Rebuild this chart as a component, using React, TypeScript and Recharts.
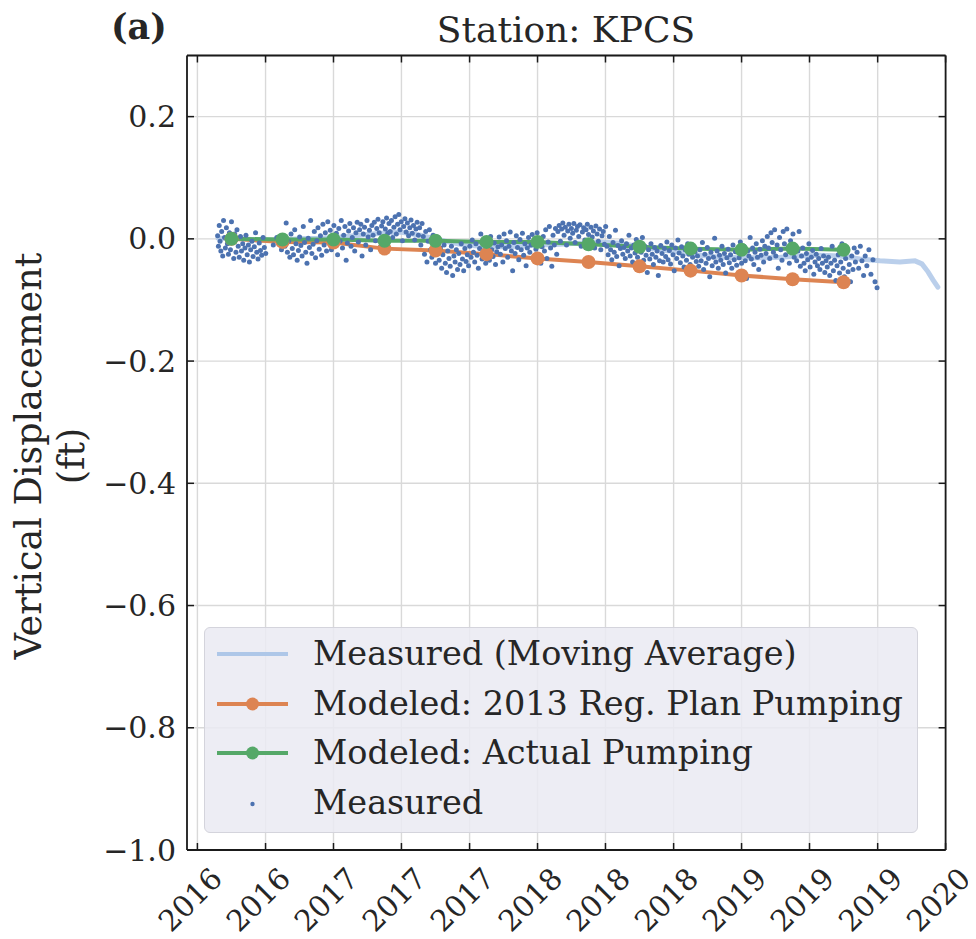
import React from "react";
import { CartesianGrid, ComposedChart, Line, Scatter, XAxis, YAxis } from "recharts";

// decimal year, vertical displacement (ft)
const movingAverage: [number, number][] = [
  [2016.434, 0.001], [2016.542, 0.0], [2016.64, -0.002], [2016.738, -0.002], [2016.836, 0.0],
  [2016.934, 0.001], [2017.032, 0.003], [2017.13, 0.006], [2017.228, 0.009], [2017.326, 0.011],
  [2017.426, 0.006], [2017.522, -0.002], [2017.62, -0.009], [2017.718, -0.012], [2017.816, -0.013],
  [2017.916, -0.012], [2018.012, -0.01], [2018.11, -0.009], [2018.208, -0.007], [2018.306, -0.005],
  [2018.404, -0.007], [2018.502, -0.013], [2018.6, -0.018], [2018.7, -0.022], [2018.796, -0.027],
  [2018.894, -0.03], [2018.992, -0.031], [2019.09, -0.031], [2019.19, -0.03], [2019.286, -0.028],
  [2019.384, -0.027], [2019.482, -0.028], [2019.58, -0.033], [2019.678, -0.036], [2019.776, -0.038],
  [2019.85, -0.036], [2019.884, -0.041], [2019.914, -0.054], [2019.938, -0.067], [2019.962, -0.079],
];

const modelYears = [
  2016.5, 2016.75, 2017.0, 2017.25, 2017.5, 2017.75, 2018.0, 2018.25, 2018.5, 2018.75, 2019.0, 2019.25, 2019.5,
];
const regPlan = [0.0, -0.005, -0.006, -0.016, -0.019, -0.025, -0.032, -0.038, -0.045, -0.052, -0.06, -0.066, -0.071];
const actualPumping = [0.0, -0.001, -0.001, -0.003, -0.003, -0.005, -0.005, -0.009, -0.013, -0.016, -0.018, -0.016, -0.018];

const measured: [number, number][] = [
  [2016.432, 0.005], [2016.436, -0.012], [2016.44, 0.022], [2016.444, -0.004], [2016.448, -0.02], [2016.452, 0.012],
  [2016.457, -0.028], [2016.461, 0.03], [2016.466, 0.002], [2016.47, -0.015], [2016.475, 0.018], [2016.48, -0.008],
  [2016.485, -0.025], [2016.49, 0.01], [2016.495, -0.018], [2016.5, 0.028], [2016.506, -0.005], [2016.511, -0.032],
  [2016.516, 0.008], [2016.522, -0.022], [2016.527, 0.015], [2016.533, -0.012], [2016.538, -0.03], [2016.544, 0.004],
  [2016.549, -0.02], [2016.555, -0.008], [2016.56, -0.035], [2016.566, -0.015], [2016.571, 0.006], [2016.577, -0.026],
  [2016.583, -0.01], [2016.588, -0.038], [2016.594, -0.018], [2016.6, -0.004], [2016.606, -0.029], [2016.612, -0.013],
  [2016.618, 0.01], [2016.624, -0.022], [2016.63, -0.033], [2016.636, -0.007], [2016.642, -0.019], [2016.648, -0.027],
  [2016.655, 0.002], [2016.661, -0.014], [2016.668, -0.024], [2016.705, -0.01], [2016.722, 0.002], [2016.745, -0.018],
  [2016.762, -0.012], [2016.768, 0.026], [2016.774, -0.022], [2016.78, -0.004], [2016.786, -0.03], [2016.792, 0.008],
  [2016.798, -0.016], [2016.804, -0.026], [2016.81, 0.015], [2016.816, -0.008], [2016.822, -0.035], [2016.828, -0.019],
  [2016.834, 0.003], [2016.84, -0.011], [2016.846, -0.028], [2016.852, 0.02], [2016.858, -0.006], [2016.864, -0.022],
  [2016.87, -0.04], [2016.876, 0.001], [2016.882, -0.014], [2016.888, 0.03], [2016.894, -0.024], [2016.9, -0.009],
  [2016.906, 0.012], [2016.912, -0.031], [2016.918, -0.003], [2016.924, 0.018], [2016.93, -0.017], [2016.936, 0.005],
  [2016.942, -0.027], [2016.948, 0.024], [2016.954, -0.01], [2016.96, 0.01], [2016.966, -0.02], [2016.972, 0.028],
  [2016.978, -0.002], [2016.984, 0.014], [2016.99, -0.018], [2016.996, 0.004], [2017.002, 0.022], [2017.008, -0.01],
  [2017.014, 0.009], [2017.02, -0.026], [2017.026, 0.017], [2017.032, -0.004], [2017.038, 0.03], [2017.044, -0.015],
  [2017.05, 0.006], [2017.056, 0.02], [2017.062, -0.035], [2017.068, -0.007], [2017.074, 0.013], [2017.08, 0.025],
  [2017.086, -0.012], [2017.092, 0.002], [2017.098, 0.018], [2017.104, -0.02], [2017.11, 0.01], [2017.116, 0.027],
  [2017.122, -0.005], [2017.128, 0.015], [2017.134, 0.024], [2017.14, -0.028], [2017.146, 0.008], [2017.152, 0.019],
  [2017.158, -0.01], [2017.164, 0.03], [2017.17, 0.003], [2017.176, 0.014], [2017.182, -0.018], [2017.188, 0.022],
  [2017.194, 0.006], [2017.2, 0.027], [2017.206, -0.003], [2017.212, 0.017], [2017.218, 0.032], [2017.224, 0.01],
  [2017.23, -0.013], [2017.236, 0.021], [2017.242, 0.028], [2017.248, 0.004], [2017.254, 0.016], [2017.26, 0.034],
  [2017.266, 0.009], [2017.272, 0.025], [2017.278, 0.012], [2017.284, 0.03], [2017.29, 0.002], [2017.296, 0.019],
  [2017.302, 0.036], [2017.308, 0.008], [2017.314, 0.024], [2017.32, 0.04], [2017.326, 0.015], [2017.332, 0.028],
  [2017.338, -0.003], [2017.344, 0.02], [2017.35, 0.033], [2017.356, 0.011], [2017.362, 0.026], [2017.368, 0.005],
  [2017.374, 0.018], [2017.38, 0.031], [2017.386, 0.009], [2017.392, 0.022], [2017.398, -0.002], [2017.404, 0.016],
  [2017.41, 0.027], [2017.416, 0.006], [2017.422, 0.018], [2017.428, -0.01], [2017.434, 0.025], [2017.44, 0.004],
  [2017.446, -0.025], [2017.452, 0.012], [2017.458, -0.038], [2017.464, -0.004], [2017.47, 0.015], [2017.476, -0.018],
  [2017.482, -0.03], [2017.488, 0.006], [2017.494, -0.012], [2017.5, -0.04], [2017.506, -0.022], [2017.512, 0.002],
  [2017.518, -0.035], [2017.524, -0.015], [2017.53, -0.048], [2017.536, -0.026], [2017.542, -0.01], [2017.548, -0.04],
  [2017.554, -0.055], [2017.56, -0.02], [2017.566, -0.032], [2017.572, -0.045], [2017.578, -0.012], [2017.584, -0.06],
  [2017.59, -0.028], [2017.596, -0.038], [2017.602, -0.018], [2017.608, -0.05], [2017.614, -0.024], [2017.62, -0.042],
  [2017.626, -0.008], [2017.632, -0.033], [2017.638, -0.052], [2017.644, -0.016], [2017.65, -0.037], [2017.656, -0.026],
  [2017.662, -0.044], [2017.668, -0.012], [2017.674, -0.03], [2017.68, -0.002], [2017.686, -0.022], [2017.692, -0.038],
  [2017.698, -0.008], [2017.704, -0.027], [2017.71, -0.048], [2017.716, -0.016], [2017.722, 0.008], [2017.728, -0.033],
  [2017.734, -0.02], [2017.74, -0.004], [2017.746, -0.04], [2017.752, -0.024], [2017.758, -0.012], [2017.764, -0.035],
  [2017.77, 0.004], [2017.776, -0.018], [2017.782, -0.029], [2017.788, -0.007], [2017.794, -0.042], [2017.8, -0.021],
  [2017.806, -0.013], [2017.812, 0.003], [2017.818, -0.025], [2017.824, -0.01], [2017.83, -0.038], [2017.836, 0.008],
  [2017.842, -0.016], [2017.848, -0.003], [2017.854, -0.03], [2017.86, -0.012], [2017.866, 0.011], [2017.872, -0.02],
  [2017.878, -0.052], [2017.884, -0.006], [2017.89, -0.024], [2017.896, 0.005], [2017.902, -0.014], [2017.908, -0.034],
  [2017.914, -0.001], [2017.92, -0.018], [2017.926, 0.009], [2017.932, -0.027], [2017.938, -0.008], [2017.944, -0.044],
  [2017.95, -0.015], [2017.956, 0.002], [2017.962, -0.022], [2017.968, -0.01], [2017.974, 0.007], [2017.98, -0.031],
  [2017.986, -0.004], [2017.992, -0.017], [2017.998, 0.01], [2018.004, -0.026], [2018.01, -0.006], [2018.016, -0.04],
  [2018.022, -0.013], [2018.028, 0.004], [2018.034, -0.02], [2018.04, 0.015], [2018.046, -0.032], [2018.052, -0.005],
  [2018.058, 0.02], [2018.064, -0.015], [2018.07, -0.045], [2018.076, 0.006], [2018.082, -0.01], [2018.088, 0.017],
  [2018.094, -0.025], [2018.1, 0.012], [2018.106, 0.022], [2018.112, -0.004], [2018.118, 0.016], [2018.124, 0.026],
  [2018.13, 0.006], [2018.136, 0.019], [2018.142, -0.01], [2018.148, 0.013], [2018.154, 0.024], [2018.16, 0.001],
  [2018.166, 0.017], [2018.172, 0.009], [2018.178, 0.025], [2018.184, -0.006], [2018.19, 0.014], [2018.196, 0.02],
  [2018.202, 0.004], [2018.208, 0.023], [2018.214, -0.012], [2018.22, 0.011], [2018.226, 0.018], [2018.232, -0.002],
  [2018.238, 0.015], [2018.244, 0.024], [2018.25, 0.007], [2018.256, -0.008], [2018.262, 0.019], [2018.268, 0.003],
  [2018.274, 0.013], [2018.28, -0.015], [2018.286, 0.021], [2018.292, 0.008], [2018.298, -0.004], [2018.304, 0.016],
  [2018.31, -0.018], [2018.316, 0.005], [2018.322, 0.012], [2018.328, -0.009], [2018.334, 0.02], [2018.34, -0.012],
  [2018.346, -0.026], [2018.352, 0.004], [2018.358, -0.018], [2018.364, -0.034], [2018.37, -0.006], [2018.376, -0.022],
  [2018.382, 0.014], [2018.388, -0.029], [2018.394, -0.011], [2018.4, -0.044], [2018.406, -0.016], [2018.412, -0.003],
  [2018.418, -0.025], [2018.424, -0.014], [2018.43, -0.032], [2018.436, -0.008], [2018.442, -0.02], [2018.448, 0.006],
  [2018.454, -0.028], [2018.46, -0.015], [2018.466, -0.038], [2018.472, -0.01], [2018.478, -0.023], [2018.484, -0.001],
  [2018.49, -0.03], [2018.496, -0.015], [2018.502, -0.04], [2018.508, -0.022], [2018.514, 0.002], [2018.52, -0.035],
  [2018.526, -0.012], [2018.532, -0.027], [2018.538, -0.055], [2018.544, -0.018], [2018.55, -0.033], [2018.556, -0.008],
  [2018.562, -0.025], [2018.568, -0.042], [2018.574, -0.014], [2018.58, -0.03], [2018.586, -0.02], [2018.592, -0.06],
  [2018.598, -0.036], [2018.604, -0.011], [2018.61, -0.024], [2018.616, -0.038], [2018.622, -0.016], [2018.628, -0.029],
  [2018.634, -0.005], [2018.64, -0.034], [2018.646, -0.019], [2018.652, -0.041], [2018.658, -0.01], [2018.664, -0.026],
  [2018.67, -0.052], [2018.676, -0.015], [2018.682, -0.032], [2018.688, -0.002], [2018.694, -0.023], [2018.7, -0.039],
  [2018.706, -0.013], [2018.712, -0.028], [2018.718, -0.046], [2018.724, -0.018], [2018.73, -0.035], [2018.736, -0.008],
  [2018.742, -0.025], [2018.748, -0.042], [2018.754, -0.016], [2018.76, -0.03], [2018.766, -0.055], [2018.772, -0.021],
  [2018.778, -0.037], [2018.784, -0.028], [2018.79, -0.045], [2018.796, -0.018], [2018.802, -0.036], [2018.808, -0.006],
  [2018.814, -0.05], [2018.82, -0.025], [2018.826, -0.04], [2018.832, -0.014], [2018.838, -0.032], [2018.844, -0.062],
  [2018.85, -0.022], [2018.856, -0.044], [2018.862, -0.03], [2018.868, 0.001], [2018.874, -0.038], [2018.88, -0.02],
  [2018.886, -0.048], [2018.892, -0.027], [2018.898, -0.035], [2018.904, -0.012], [2018.91, -0.042], [2018.916, -0.024],
  [2018.922, -0.056], [2018.928, -0.031], [2018.934, -0.017], [2018.94, -0.039], [2018.946, -0.026], [2018.952, -0.048],
  [2018.958, -0.01], [2018.964, -0.034], [2018.97, -0.021], [2018.976, -0.043], [2018.982, -0.018], [2018.988, -0.031],
  [2018.994, -0.005], [2019.0, -0.04], [2019.006, -0.024], [2019.012, -0.012], [2019.018, -0.036], [2019.024, -0.065],
  [2019.03, -0.02], [2019.036, -0.028], [2019.042, 0.002], [2019.048, -0.033], [2019.054, -0.015], [2019.06, -0.042],
  [2019.066, -0.022], [2019.072, -0.008], [2019.078, -0.03], [2019.084, -0.05], [2019.09, -0.017], [2019.096, -0.027],
  [2019.102, -0.003], [2019.108, -0.038], [2019.114, -0.012], [2019.12, -0.024], [2019.126, 0.004], [2019.132, -0.015],
  [2019.138, -0.032], [2019.144, 0.01], [2019.15, -0.006], [2019.156, -0.022], [2019.162, 0.015], [2019.168, -0.028],
  [2019.174, -0.01], [2019.18, -0.048], [2019.186, 0.002], [2019.192, -0.018], [2019.198, -0.035], [2019.204, 0.012],
  [2019.21, -0.008], [2019.216, -0.026], [2019.222, 0.016], [2019.228, -0.014], [2019.234, -0.04], [2019.24, -0.003],
  [2019.246, -0.021], [2019.252, 0.008], [2019.258, -0.03], [2019.264, -0.012], [2019.27, -0.036], [2019.276, -0.02],
  [2019.282, 0.012], [2019.288, -0.045], [2019.294, -0.028], [2019.3, -0.015], [2019.306, -0.04], [2019.312, -0.052],
  [2019.318, -0.024], [2019.324, -0.034], [2019.33, -0.008], [2019.336, -0.046], [2019.342, -0.03], [2019.348, -0.019],
  [2019.354, -0.058], [2019.36, -0.038], [2019.366, -0.025], [2019.372, -0.044], [2019.378, -0.032], [2019.384, -0.05],
  [2019.39, -0.016], [2019.396, -0.04], [2019.402, -0.028], [2019.408, -0.055], [2019.414, -0.036], [2019.42, -0.046],
  [2019.426, -0.03], [2019.432, -0.06], [2019.438, -0.04], [2019.444, -0.012], [2019.45, -0.052], [2019.456, -0.035],
  [2019.462, -0.068], [2019.468, -0.044], [2019.474, -0.026], [2019.48, -0.056], [2019.486, -0.038], [2019.492, -0.008],
  [2019.498, -0.048], [2019.504, -0.062], [2019.51, -0.032], [2019.516, -0.02], [2019.522, -0.054], [2019.528, -0.042],
  [2019.534, -0.07], [2019.54, -0.028], [2019.546, -0.05], [2019.552, -0.015], [2019.558, -0.038], [2019.566, -0.022],
  [2019.574, -0.048], [2019.582, -0.012], [2019.59, -0.036], [2019.598, -0.06], [2019.606, -0.028], [2019.614, -0.044],
  [2019.624, -0.018], [2019.634, -0.058], [2019.644, -0.034], [2019.654, -0.07], [2019.664, -0.08],
];

const xTicks = [
  2016.333, 2016.667, 2017.0, 2017.333, 2017.667, 2018.0, 2018.333, 2018.667, 2019.0, 2019.333, 2019.667, 2020.0,
];
const xTickLabels = ["2016", "2016", "2017", "2017", "2017", "2018", "2018", "2018", "2019", "2019", "2019", "2020"];
const yTicks = [-1.0, -0.8, -0.6, -0.4, -0.2, 0.0, 0.2];
const yTickLabels = ["−1.0", "−0.8", "−0.6", "−0.4", "−0.2", "0.0", "0.2"];

const FONT = "'DejaVu Serif', serif";
const TEXT = "#262626";
const FRAME = "#1a1a1a";
const C_AVG = "#aec7e8";
const C_PLAN = "#dd8452";
const C_ACTUAL = "#55a868";
const C_MEAS = "#4c72b0";

const maData = movingAverage.map(([year, value]) => ({ year, value }));
const planData = modelYears.map((year, i) => ({ year, value: regPlan[i] }));
const actualData = modelYears.map((year, i) => ({ year, value: actualPumping[i] }));
const measData = measured.map(([year, value]) => ({ year, value }));

const BottomTick = (props: any) => {
  const { x, y, index } = props;
  return (
    <g>
      <line x1={x} y1={y} x2={x} y2={y - 7} stroke={FRAME} strokeWidth={1.5} />
      <text
        transform={`translate(${x - 7},${y + 50}) rotate(-45)`}
        textAnchor="middle"
        dominantBaseline="central"
        fontSize={29.5}
        fontFamily={FONT}
        fill={TEXT}
      >
        {xTickLabels[index]}
      </text>
    </g>
  );
};

const TopTick = (props: any) => {
  const { x, y } = props;
  return <line x1={x} y1={y} x2={x} y2={y + 7} stroke={FRAME} strokeWidth={1.5} />;
};

const LeftTick = (props: any) => {
  const { x, y, index } = props;
  return (
    <g>
      <line x1={x} y1={y} x2={x + 7} y2={y} stroke={FRAME} strokeWidth={1.5} />
      <text x={x - 11} y={y} textAnchor="end" dominantBaseline="central" fontSize={30} fontFamily={FONT} fill={TEXT}>
        {yTickLabels[index]}
      </text>
    </g>
  );
};

const RightTick = (props: any) => {
  const { x, y } = props;
  return <line x1={x} y1={y} x2={x - 7} y2={y} stroke={FRAME} strokeWidth={1.5} />;
};

const MeasDot = (props: any) => {
  const { cx, cy } = props;
  if (cx == null || cy == null) return <g />;
  return <circle cx={cx} cy={cy} r={2.5} fill={C_MEAS} />;
};

const legendItems = [
  { label: "Measured (Moving Average)", color: C_AVG, kind: "line" },
  { label: "Modeled: 2013 Reg. Plan Pumping", color: C_PLAN, kind: "marker" },
  { label: "Modeled: Actual Pumping", color: C_ACTUAL, kind: "marker" },
  { label: "Measured", color: C_MEAS, kind: "dot" },
];

function ChartLegend() {
  return (
    <div
      style={{
        position: "absolute",
        left: 196,
        top: 619,
        width: 714,
        height: 206,
        background: "rgba(234,234,242,0.85)",
        border: "1px solid #d4d4dc",
        borderRadius: 6,
        boxSizing: "border-box",
      }}
    >
      {legendItems.map((item, i) => (
        <div
          key={item.label}
          style={{ position: "absolute", left: 0, top: 26 + i * 49.5 - 20, height: 40, display: "flex", alignItems: "center" }}
        >
          <svg width={100} height={40} style={{ display: "block" }}>
            {item.kind !== "dot" && <line x1={12} y1={20} x2={83} y2={20} stroke={item.color} strokeWidth={4} />}
            {item.kind === "marker" && <circle cx={47.5} cy={20} r={6.5} fill={item.color} />}
            {item.kind === "dot" && <circle cx={47.5} cy={21} r={2.2} fill={item.color} />}
          </svg>
          <span
            style={{
              marginLeft: 8,
              fontFamily: FONT,
              fontSize: 33.5,
              color: TEXT,
              whiteSpace: "nowrap",
              lineHeight: "40px",
            }}
          >
            {item.label}
          </span>
        </div>
      ))}
    </div>
  );
}

export default function App() {
  return (
    <div style={{ position: "relative", width: 968, height: 931 }}>
      <style>{".recharts-surface{overflow:visible}"}</style>
      <ComposedChart
        width={968}
        height={931}
        margin={{ top: 46.5, right: 29.4, bottom: 19, left: 99 }}
      >
        <CartesianGrid stroke="#d9d9d9" strokeWidth={1.4} />
        <XAxis
          dataKey="year"
          type="number"
          domain={[2016.282, 2020.0]}
          allowDataOverflow
          ticks={xTicks}
          interval={0}
          height={70}
          tickSize={0}
          tickMargin={0}
          tick={<BottomTick />}
          axisLine={{ stroke: FRAME, strokeWidth: 1.8 }}
          tickLine={false}
        />
        <XAxis
          xAxisId="top"
          orientation="top"
          dataKey="year"
          type="number"
          domain={[2016.282, 2020.0]}
          allowDataOverflow
          ticks={xTicks}
          interval={0}
          height={1}
          tickSize={0}
          tickMargin={0}
          tick={<TopTick />}
          axisLine={{ stroke: FRAME, strokeWidth: 1.8 }}
          tickLine={false}
        />
        <YAxis
          type="number"
          domain={[-1.0, 0.3]}
          allowDataOverflow
          ticks={yTicks}
          interval={0}
          width={80}
          tickSize={0}
          tickMargin={0}
          tick={<LeftTick />}
          axisLine={{ stroke: FRAME, strokeWidth: 1.8 }}
          tickLine={false}
        />
        <YAxis
          yAxisId="right"
          orientation="right"
          type="number"
          domain={[-1.0, 0.3]}
          allowDataOverflow
          ticks={yTicks}
          interval={0}
          width={1}
          tickSize={0}
          tickMargin={0}
          tick={<RightTick />}
          axisLine={{ stroke: FRAME, strokeWidth: 1.8 }}
          tickLine={false}
        />
        <Scatter data={measData} dataKey="value" fill={C_MEAS} shape={<MeasDot />} isAnimationActive={false} />
        <Line
          data={maData}
          dataKey="value"
          xAxisId="top"
          yAxisId="right"
          stroke={C_AVG}
          strokeOpacity={0.85}
          strokeWidth={5}
          strokeLinecap="round"
          dot={false}
          activeDot={false}
          isAnimationActive={false}
        />
        <Line
          data={planData}
          dataKey="value"
          stroke={C_PLAN}
          strokeWidth={4}
          dot={{ r: 7, fill: C_PLAN, stroke: "none" }}
          activeDot={false}
          isAnimationActive={false}
        />
        <Line
          data={actualData}
          dataKey="value"
          stroke={C_ACTUAL}
          strokeWidth={4}
          dot={{ r: 7, fill: C_ACTUAL, stroke: "none" }}
          activeDot={false}
          isAnimationActive={false}
        />
      </ComposedChart>
      <svg
        width={968}
        height={931}
        style={{ position: "absolute", left: 0, top: 0, pointerEvents: "none", overflow: "visible" }}
      >
        <text x={103} y={31} fontSize={35} fontWeight="bold" fontFamily={FONT} fill={TEXT}>
          (a)
        </text>
        <text x={558} y={34} textAnchor="middle" fontSize={36} fontFamily={FONT} fill={TEXT}>
          Station: KPCS
        </text>
        <text transform="translate(33,448) rotate(-90)" textAnchor="middle" fontSize={36.5} fontFamily={FONT} fill={TEXT}>
          Vertical Displacement
        </text>
        <text transform="translate(76,448) rotate(-90)" textAnchor="middle" fontSize={36.5} fontFamily={FONT} fill={TEXT}>
          (ft)
        </text>
      </svg>
      <ChartLegend />
    </div>
  );
}
